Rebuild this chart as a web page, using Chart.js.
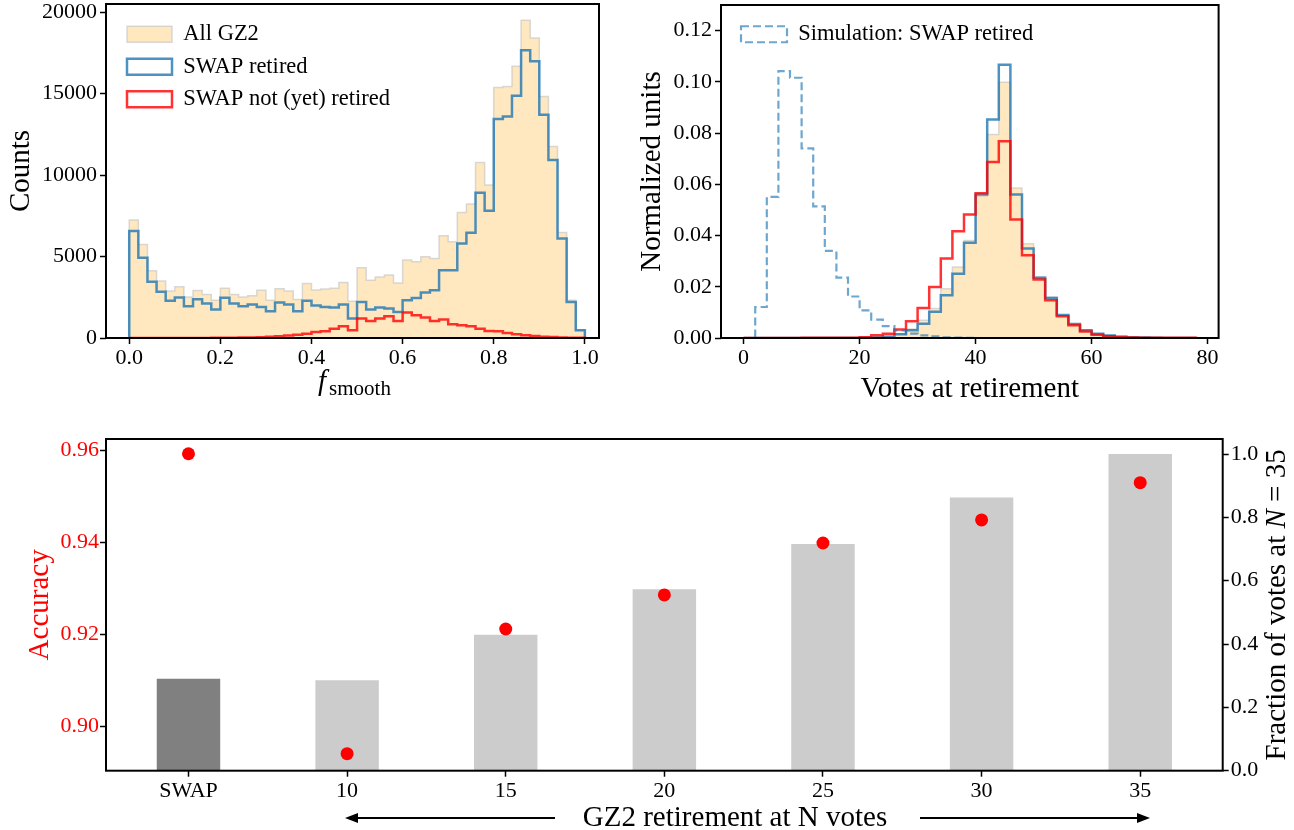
<!DOCTYPE html>
<html>
<head>
<meta charset="utf-8">
<script src="https://cdn.jsdelivr.net/npm/chart.js@4.4.1/dist/chart.umd.min.js"></script>
<style>
  html, body { margin: 0; padding: 0; background: #fff; }
  #wrap { position: relative; width: 1294px; height: 830px; overflow: hidden; }
  canvas { position: absolute; }
  #smooth { left: 0; top: 0; }
  #votes { left: 620px; top: 0; }
  #acc { left: 0; top: 400px; }
</style>
</head>
<body>
<div id="wrap">
  <canvas id="smooth" width="620" height="408"></canvas>
  <canvas id="votes" width="674" height="408"></canvas>
  <canvas id="acc" width="1294" height="430"></canvas>
</div>
<script>
// f_smooth histogram, 50 bins of width 0.02
const smoothEdges = [0.00, 0.02, 0.04, 0.06, 0.08, 0.10, 0.12, 0.14, 0.16, 0.18,
  0.20, 0.22, 0.24, 0.26, 0.28, 0.30, 0.32, 0.34, 0.36, 0.38,
  0.40, 0.42, 0.44, 0.46, 0.48, 0.50, 0.52, 0.54, 0.56, 0.58,
  0.60, 0.62, 0.64, 0.66, 0.68, 0.70, 0.72, 0.74, 0.76, 0.78,
  0.80, 0.82, 0.84, 0.86, 0.88, 0.90, 0.92, 0.94, 0.96, 0.98, 1.00];
const smoothAll = [7240, 5740, 4120, 3500, 2890, 3140, 2520, 2910, 2670, 2320,
  3060, 2670, 2520, 2590, 2930, 2320, 3020, 2890, 2360, 3340,
  2950, 3000, 3050, 3400, 2250, 4310, 3550, 3750, 3860, 3380,
  4780, 4680, 4980, 4880, 6280, 5910, 7710, 8220, 10770, 9390,
  15380, 15440, 16680, 19500, 18420, 14830, 11750, 6480, 2320, 480];
const smoothRetired = [6565, 4924, 3447, 2832, 2279, 2484, 1951, 2381, 2115, 1746,
  2463, 2115, 1951, 2053, 1910, 1643, 2176, 2053, 1643, 2279,
  2000, 1910, 1867, 2053, 1190, 2215, 1743, 1866, 1805, 1600,
  2318, 2461, 2789, 2933, 4164, 4164, 5804, 6461, 8922, 7814,
  13434, 13598, 14870, 17659, 16982, 13700, 10932, 6112, 2215, 472];
const smoothNotRetired = [0, 0, 0, 0, 0, 0, 5, 5, 5, 10,
  15, 20, 25, 35, 50, 70, 100, 150, 200, 260,
  370, 410, 570, 720, 470, 1190, 1046, 1190, 1333, 1046,
  1559, 1395, 1251, 1046, 1128, 841, 779, 718, 574, 431,
  410, 308, 226, 164, 123, 82, 60, 30, 20, 10];
const smoothTicks = [0, 0.2, 0.4, 0.6, 0.8, 1.0];
const countTicks = [0, 5000, 10000, 15000, 20000];

// votes at retirement, 39 bins of width 2
const voteEdges = [0, 2, 4, 6, 8, 10, 12, 14, 16, 18, 20, 22, 24, 26, 28, 30, 32, 34, 36, 38,
  40, 42, 44, 46, 48, 50, 52, 54, 56, 58, 60, 62, 64, 66, 68, 70, 72, 74, 76, 78];
const votesAll = [0, 0, 0, 0, 0, 0, 0, 0, 0, 0,
  0.0001, 0.0003, 0.0007, 0.0017, 0.0035, 0.0069, 0.0115, 0.0192, 0.0277, 0.0381,
  0.0554, 0.0794, 0.0998, 0.0586, 0.0368, 0.0238, 0.0160, 0.0088, 0.0055, 0.0030,
  0.0017, 0.0010, 0.0005, 0.0003, 0.0002, 0.0001, 0.0001, 0.0001, 0.0001];
const votesRetired = [0, 0, 0, 0, 0, 0, 0, 0, 0, 0,
  0.0001, 0.0002, 0.0005, 0.0015, 0.0030, 0.0056, 0.0102, 0.0167, 0.0251, 0.0372,
  0.0560, 0.0853, 0.1067, 0.0560, 0.0349, 0.0235, 0.0156, 0.0090, 0.0055, 0.0030,
  0.0017, 0.0010, 0.0005, 0.0003, 0.0002, 0.0001, 0, 0, 0];
const votesNotRetired = [0, 0, 0, 0, 0, 0.0001, 0.0001, 0.0001, 0.0001, 0.0001,
  0.0003, 0.0011, 0.0017, 0.0033, 0.0065, 0.0117, 0.0199, 0.0310, 0.0417, 0.0482,
  0.0565, 0.0687, 0.0768, 0.0463, 0.0323, 0.0228, 0.0147, 0.0085, 0.0050, 0.0025,
  0.0013, 0.0007, 0.0004, 0.0002, 0.0001, 0.0001, 0.0001, 0.0001, 0.0001];
const votesSim = [0, 0.0121, 0.0551, 0.1042, 0.1016, 0.0740, 0.0514, 0.0340, 0.0236, 0.0162,
  0.0108, 0.0072, 0.0046, 0.0030, 0.0017, 0.0010, 0.0006, 0.0003, 0.0002, 0.0001,
  0, 0, 0, 0, 0, 0, 0, 0, 0, 0, 0, 0, 0, 0, 0, 0, 0, 0, 0];
const voteTicks = [0, 20, 40, 60, 80];
const unitTicks = [0, 0.02, 0.04, 0.06, 0.08, 0.10, 0.12];

// accuracy vs GZ2 retirement threshold
const retireLabels = ['SWAP', '10', '15', '20', '25', '30', '35'];
const accuracy = [0.9593, 0.8941, 0.9212, 0.9286, 0.9399, 0.9449, 0.9530];
const voteFraction = [0.290, 0.286, 0.429, 0.573, 0.716, 0.863, 1.0];
const accTicks = [0.90, 0.92, 0.94, 0.96];
const fracTicks = [0, 0.2, 0.4, 0.6, 0.8, 1.0];

const FONT = "'Liberation Serif', 'Times New Roman', serif";
Chart.defaults.font.family = FONT;
Chart.defaults.color = '#000';

// outline of a histogram: (edge, 0) up, across each bin, down again
function histLine(edges, counts) {
  const pts = [{ x: edges[0], y: 0 }];
  counts.forEach((c, i) => {
    pts.push({ x: edges[i], y: c }, { x: edges[i + 1], y: c });
  });
  pts.push({ x: edges[counts.length], y: 0 });
  return pts;
}

const frame = {
  id: 'frame',
  afterDraw(chart) {
    const { ctx, chartArea: a } = chart;
    ctx.save();
    ctx.strokeStyle = '#000';
    ctx.lineWidth = 2;
    ctx.strokeRect(a.left, a.top, a.right - a.left, a.bottom - a.top);
    ctx.restore();
  }
};

const legendNudge = {
  id: 'legendNudge',
  afterLayout(chart, args, opts) {
    if (chart.legend) {
      chart.legend.left += opts.dx || 0;
      chart.legend.top += opts.dy || 0;
    }
  }
};

// axis with outward black ticks; size fixed so the plot box lands where the reference has it
function tickAxis(extra, size) {
  return Object.assign({
    type: 'linear',
    grid: { offset: false, drawOnChartArea: false, drawTicks: true, tickLength: 6, tickWidth: 1.5, tickColor: '#000' },
    border: { display: false },
    afterFit: s => {
      if (s.isHorizontal()) s.height = size; else s.width = size;
      s.paddingTop = 0; s.paddingBottom = 0; s.paddingLeft = 0; s.paddingRight = 0;
    }
  }, extra);
}

const step = { pointRadius: 0, pointHoverRadius: 0, tension: 0, borderJoinStyle: 'miter' };

const smoothLabel = {
  id: 'smoothLabel',
  afterDraw(chart) {
    const { ctx, chartArea: a } = chart;
    ctx.save();
    ctx.fillStyle = '#000';
    ctx.textBaseline = 'alphabetic';
    const fFont = 'italic 29px ' + FONT;
    const sFont = '21px ' + FONT;
    ctx.font = fFont;
    const fw = ctx.measureText('f').width;
    ctx.font = sFont;
    const sw = ctx.measureText('smooth').width;
    let x = (a.left + a.right) / 2 + 2 - (fw + sw + 3) / 2;
    ctx.font = fFont;
    ctx.fillText('f', x, 390);
    ctx.font = sFont;
    ctx.fillText('smooth', x + fw + 3, 395);
    ctx.restore();
  }
};

new Chart(document.getElementById('smooth'), {
  type: 'line',
  data: {
    datasets: [
      Object.assign({
        label: 'All GZ2',
        data: histLine(smoothEdges, smoothAll),
        fill: 'origin',
        backgroundColor: 'rgba(255,165,0,0.25)',
        borderColor: 'rgba(190,190,190,0.55)',
        borderWidth: 1.5,
        order: 3
      }, step),
      Object.assign({
        label: 'SWAP retired',
        data: histLine(smoothEdges, smoothRetired),
        fill: false,
        backgroundColor: 'rgba(255,255,255,0)',
        borderColor: 'rgba(31,119,180,0.8)',
        borderWidth: 2.5,
        order: 2
      }, step),
      Object.assign({
        label: 'SWAP not (yet) retired',
        data: histLine(smoothEdges, smoothNotRetired),
        fill: false,
        backgroundColor: 'rgba(255,255,255,0)',
        borderColor: 'rgba(255,0,0,0.8)',
        borderWidth: 2.5,
        order: 1
      }, step)
    ]
  },
  options: {
    responsive: false,
    animation: false,
    events: [],
    devicePixelRatio: 1,
    layout: { padding: { top: 4, right: 21, left: 0, bottom: 0 } },
    scales: {
      x: tickAxis({
        min: -0.051, max: 1.031,
        afterBuildTicks: s => { s.ticks = smoothTicks.map(v => ({ value: v })); },
        ticks: { font: { size: 22 }, padding: 1, maxRotation: 0, autoSkip: false, callback: v => v.toFixed(1) }
      }, 70),
      y: tickAxis({
        min: 0, max: 20500,
        afterBuildTicks: s => { s.ticks = countTicks.map(v => ({ value: v })); },
        ticks: { font: { size: 22 }, padding: 3, callback: v => String(v) },
        title: { display: true, text: 'Counts', font: { size: 29 }, padding: { top: 4, bottom: 0 } }
      }, 106)
    },
    plugins: {
      tooltip: { enabled: false },
      legend: {
        position: 'chartArea',
        align: 'start',
        labels: {
          boxWidth: 45, boxHeight: 16, padding: 10,
          font: { size: 22.5 },
          sort: (a, b) => a.datasetIndex - b.datasetIndex
        }
      },
      legendNudge: { dx: 11, dy: 13 }
    }
  },
  plugins: [frame, legendNudge, smoothLabel]
});

new Chart(document.getElementById('votes'), {
  type: 'line',
  data: {
    datasets: [
      Object.assign({
        label: 'All GZ2',
        data: histLine(voteEdges, votesAll),
        fill: 'origin',
        backgroundColor: 'rgba(255,165,0,0.25)',
        borderColor: 'rgba(190,190,190,0.55)',
        borderWidth: 1.5,
        order: 4
      }, step),
      Object.assign({
        label: 'SWAP retired',
        data: histLine(voteEdges, votesRetired),
        fill: false,
        backgroundColor: 'rgba(255,255,255,0)',
        borderColor: 'rgba(31,119,180,0.8)',
        borderWidth: 2.5,
        order: 3
      }, step),
      Object.assign({
        label: 'SWAP not (yet) retired',
        data: histLine(voteEdges, votesNotRetired),
        fill: false,
        backgroundColor: 'rgba(255,255,255,0)',
        borderColor: 'rgba(255,0,0,0.8)',
        borderWidth: 2.5,
        order: 2
      }, step),
      Object.assign({
        label: 'Simulation: SWAP retired',
        data: histLine(voteEdges, votesSim),
        fill: false,
        backgroundColor: 'rgba(255,255,255,0)',
        borderColor: 'rgba(31,119,180,0.65)',
        borderWidth: 2.2,
        borderDash: [8, 4],
        order: 1
      }, step)
    ]
  },
  options: {
    responsive: false,
    animation: false,
    events: [],
    devicePixelRatio: 1,
    layout: { padding: { top: 5, right: 75.4, left: 0, bottom: 0 } },
    scales: {
      x: tickAxis({
        min: -3.9, max: 81.9,
        afterBuildTicks: s => { s.ticks = voteTicks.map(v => ({ value: v })); },
        ticks: { font: { size: 22 }, padding: 1, maxRotation: 0, autoSkip: false, callback: v => String(v) },
        title: { display: true, text: 'Votes at retirement', font: { size: 29 }, padding: { top: 0, bottom: 1 } }
      }, 70),
      y: tickAxis({
        min: 0, max: 0.13,
        afterBuildTicks: s => { s.ticks = unitTicks.map(v => ({ value: v })); },
        ticks: { font: { size: 22 }, padding: 3, callback: v => v.toFixed(2) },
        title: { display: true, text: 'Normalized units', font: { size: 29 }, padding: { top: 15, bottom: 0 } }
      }, 101)
    },
    plugins: {
      tooltip: { enabled: false },
      legend: {
        position: 'chartArea',
        align: 'start',
        labels: {
          boxWidth: 46, boxHeight: 16, padding: 10,
          font: { size: 22.5 },
          filter: item => item.text === 'Simulation: SWAP retired'
        }
      },
      legendNudge: { dx: 10, dy: 13 }
    }
  },
  plugins: [frame, legendNudge]
});

const accTexts = {
  id: 'accTexts',
  afterDraw(chart) {
    const { ctx } = chart;
    ctx.save();
    ctx.fillStyle = '#000';
    ctx.strokeStyle = '#000';

    // x axis caption with arrows either side
    ctx.font = '29px ' + FONT;
    ctx.textAlign = 'center';
    ctx.textBaseline = 'alphabetic';
    ctx.fillText('GZ2 retirement at N votes', 735, 426);
    const arrow = (x0, x1, y) => {
      const dir = Math.sign(x1 - x0);
      ctx.lineWidth = 2;
      ctx.beginPath();
      ctx.moveTo(x0, y);
      ctx.lineTo(x1 - dir * 10, y);
      ctx.stroke();
      ctx.beginPath();
      ctx.moveTo(x1, y);
      ctx.lineTo(x1 - dir * 13, y - 5);
      ctx.lineTo(x1 - dir * 13, y + 5);
      ctx.closePath();
      ctx.fill();
    };
    arrow(555, 345, 418);
    arrow(920, 1150, 418);

    // right axis title with italic N, reading bottom to top
    const parts = [
      ['Fraction of votes at ', '29px ' + FONT],
      ['N', 'italic 29px ' + FONT],
      [' = 35', '29px ' + FONT]
    ];
    let total = 0;
    parts.forEach(p => { ctx.font = p[1]; total += ctx.measureText(p[0]).width; });
    const a = chart.chartArea;
    ctx.translate(1277, (a.top + a.bottom) / 2);
    ctx.rotate(-Math.PI / 2);
    ctx.textAlign = 'left';
    ctx.textBaseline = 'middle';
    let x = -total / 2;
    parts.forEach(p => {
      ctx.font = p[1];
      ctx.fillText(p[0], x, 0);
      x += ctx.measureText(p[0]).width;
    });
    ctx.restore();
  }
};

new Chart(document.getElementById('acc'), {
  type: 'bar',
  data: {
    datasets: [
      {
        type: 'scatter',
        label: 'Accuracy',
        data: accuracy.map((v, i) => ({ x: i, y: v })),
        yAxisID: 'yAcc',
        backgroundColor: 'rgb(255,0,0)',
        borderWidth: 0,
        pointRadius: 6.5,
        order: 1
      },
      {
        label: 'Fraction of votes',
        data: voteFraction.map((v, i) => ({ x: i, y: v })),
        yAxisID: 'yFrac',
        backgroundColor: retireLabels.map((l, i) => (i === 0 ? '#808080' : '#cccccc')),
        barPercentage: 0.4,
        categoryPercentage: 1,
        order: 2
      }
    ]
  },
  options: {
    responsive: false,
    animation: false,
    events: [],
    devicePixelRatio: 1,
    layout: { padding: { top: 39, right: 0, left: 0, bottom: 0 } },
    scales: {
      x: tickAxis({
        min: -0.52, max: 6.52,
        offset: false,
        afterBuildTicks: s => { s.ticks = retireLabels.map((l, i) => ({ value: i })); },
        ticks: { font: { size: 22 }, padding: 1, maxRotation: 0, autoSkip: false, callback: v => retireLabels[v] }
      }, 59.3),
      yAcc: tickAxis({
        position: 'left',
        min: 0.8904, max: 0.9625,
        afterBuildTicks: s => { s.ticks = accTicks.map(v => ({ value: v })); },
        ticks: { font: { size: 22 }, color: 'rgb(255,0,0)', padding: 1, callback: v => v.toFixed(2) },
        title: { display: true, text: 'Accuracy', color: 'rgb(255,0,0)', font: { size: 29 }, padding: { top: 23, bottom: 0 } }
      }, 106),
      yFrac: tickAxis({
        position: 'right',
        min: 0, max: 1.0474,
        afterBuildTicks: s => { s.ticks = fracTicks.map(v => ({ value: v })); },
        ticks: { font: { size: 22 }, padding: 2, callback: v => v.toFixed(1) }
      }, 71.3)
    },
    plugins: {
      tooltip: { enabled: false },
      legend: { display: false }
    }
  },
  plugins: [frame, accTexts]
});
</script>
</body>
</html>
